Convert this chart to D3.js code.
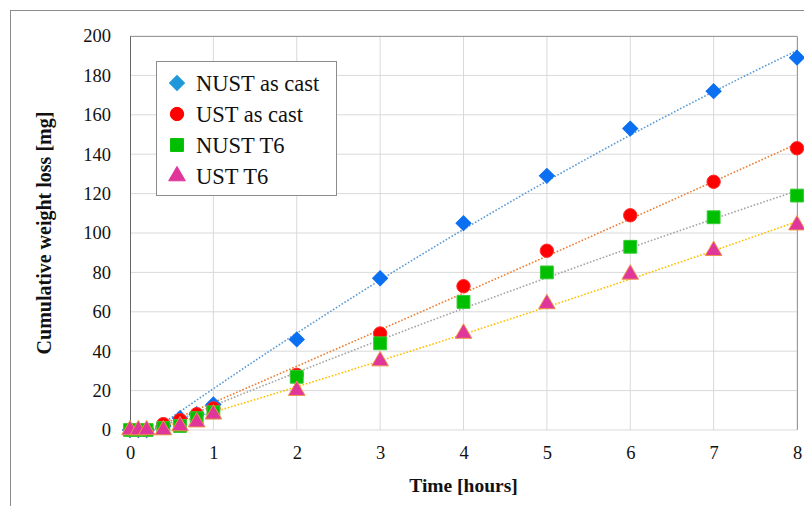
<!DOCTYPE html>
<html>
<head>
<meta charset="utf-8">
<script src="https://cdn.jsdelivr.net/npm/d3@7"></script>
<style>
  body { margin: 0; background: #fff; }
  svg text { font-family: "Liberation Serif", serif; fill: #111; }
</style>
</head>
<body>
<div id="chart"></div>
<script>
// time points [hours]
var hours = [0, 0.1, 0.2, 0.4, 0.6, 0.8, 1, 2, 3, 4, 5, 6, 7, 8];
// cumulative weight loss [mg]
var nustCast = [0, 0, 0, 2, 6, 8, 13, 46, 77, 105, 129, 153, 172, 189];
var ustCast  = [0, 0, 0, 3, 5, 8, 11, 28, 49, 73, 91, 109, 126, 143];
var nustT6   = [0, 0, 0, 1, 2, 6, 9, 27, 44, 65, 80, 93, 108, 119];
var ustT6    = [0, 0, 0, 0, 2, 4, 8, 20, 35, 49, 64, 79, 91, 104];
var seriesNames = ["NUST as cast", "UST as cast", "NUST T6", "UST T6"];
var xTicks = [0, 1, 2, 3, 4, 5, 6, 7, 8];
var yTicks = [0, 20, 40, 60, 80, 100, 120, 140, 160, 180, 200];

var styles = [
  {shape: d3.symbolSquare, rot: 45, fill: "#0a6ff0", stroke: "#0a6ff0", legendFill: "#1e98da", trend: "#5b9bd5", size: 112},
  {shape: d3.symbolCircle, rot: 0, fill: "#ff0000", stroke: "#ff2a2a", legendFill: "#ff0000", trend: "#ed7d31", size: 140},
  {shape: d3.symbolSquare, rot: 0, fill: "#00bf00", stroke: "#33cc33", legendFill: "#00bf00", trend: "#a5a5a5", size: 165},
  {shape: d3.symbolTriangle, rot: 0, fill: "#e0369b", stroke: "#f0904a", legendFill: "#e0369b", trend: "#ffc000", size: 120}
];

var series = [nustCast, ustCast, nustT6, ustT6].map(function(vals, i){
  return {name: seriesNames[i], style: styles[i],
          points: hours.map(function(h, j){ return {x: h, y: vals[j]}; })};
});

// 2nd order polynomial least squares (Excel-style trendline)
function polyfit2(pts){
  var s = [0, 0, 0, 0, 0], t = [0, 0, 0];
  pts.forEach(function(p){
    for (var k = 0; k < 5; k++) s[k] += Math.pow(p.x, k);
    for (var k2 = 0; k2 < 3; k2++) t[k2] += p.y * Math.pow(p.x, k2);
  });
  var A = [[s[0], s[1], s[2], t[0]], [s[1], s[2], s[3], t[1]], [s[2], s[3], s[4], t[2]]];
  for (var i = 0; i < 3; i++) {
    for (var r = i + 1; r < 3; r++) {
      var f = A[r][i] / A[i][i];
      for (var c = i; c < 4; c++) A[r][c] -= f * A[i][c];
    }
  }
  var c0, c1, c2;
  c2 = A[2][3] / A[2][2];
  c1 = (A[1][3] - A[1][2] * c2) / A[1][1];
  c0 = (A[0][3] - A[0][1] * c1 - A[0][2] * c2) / A[0][0];
  return function(xv){ return c0 + c1 * xv + c2 * xv * xv; };
}

var W = 804, H = 506;
var m = {left: 130, top: 36, right: 7, bottom: 76};
var pw = W - m.left - m.right, ph = H - m.top - m.bottom;

var svg = d3.select("#chart").append("svg")
    .attr("width", W).attr("height", H);

// outer frame (cut by the picture edge)
svg.append("rect").attr("x", 10.5).attr("y", 10.5)
   .attr("width", 820).attr("height", 520)
   .attr("fill", "none").attr("stroke", "#8c8c8c");

var x = d3.scaleLinear().domain([0, 8]).range([0, pw]);
var y = d3.scaleLinear().domain([0, 200]).range([ph, 0]);

var g = svg.append("g").attr("transform", "translate(" + [m.left, m.top] + ")");

g.append("clipPath").attr("id", "plotclip")
  .append("rect").attr("width", pw).attr("height", ph);

// grid
g.append("g").selectAll("line.v").data(xTicks.slice(1)).enter().append("line")
  .attr("x1", function(d){ return x(d); }).attr("x2", function(d){ return x(d); })
  .attr("y1", 0).attr("y2", ph).attr("stroke", "#d9d9d9");
g.append("g").selectAll("line.h").data(yTicks).enter().append("line")
  .attr("x1", 0).attr("x2", pw)
  .attr("y1", function(d){ return y(d); }).attr("y2", function(d){ return y(d); })
  .attr("stroke", "#d9d9d9");

// plot border: top and right
g.append("path").attr("d", "M0,0.5H" + (pw + 0.5) + "V" + ph)
  .attr("fill", "none").attr("stroke", "#9a9a9a");

// axes
var yAxis = g.append("g").call(d3.axisLeft(y).tickValues(yTicks).tickSize(0).tickPadding(19));
yAxis.select(".domain").attr("stroke", "#666");
yAxis.selectAll("text").style("font-size", "18.5px").attr("fill", "#111");

var xAxis = g.append("g").attr("transform", "translate(0," + ph + ")")
  .call(d3.axisBottom(x).tickValues(xTicks).tickSize(0).tickPadding(16));
xAxis.select(".domain").remove();
xAxis.selectAll("text").style("font-size", "18.5px").attr("fill", "#111");

// trendlines, clipped to the plot area
var trends = g.append("g").attr("clip-path", "url(#plotclip)");
var line = d3.line().x(function(d){ return x(d[0]); }).y(function(d){ return y(d[1]); });
series.forEach(function(s){
  var fit = polyfit2(s.points);
  var samples = d3.range(0, 8.001, 0.05).map(function(xv){ return [xv, fit(xv)]; });
  trends.append("path").attr("d", line(samples))
    .attr("fill", "none")
    .attr("stroke", s.style.trend).attr("stroke-width", 1.6)
    .attr("stroke-dasharray", "1.6 1.8");
});

// markers
series.forEach(function(s){
  g.append("g").selectAll("path").data(s.points).enter().append("path")
    .attr("d", d3.symbol().type(s.style.shape).size(s.style.size))
    .attr("transform", function(d){ return "translate(" + [x(d.x), y(d.y)] + ") rotate(" + s.style.rot + ")"; })
    .attr("fill", s.style.fill).attr("stroke", s.style.stroke).attr("stroke-width", 1);
});

// axis titles
svg.append("text").attr("x", m.left + pw / 2).attr("y", 492)
  .attr("text-anchor", "middle").style("font-size", "19.5px").style("font-weight", "bold")
  .text("Time [hours]");
svg.append("text").attr("transform", "translate(51," + (m.top + ph / 2) + ") rotate(-90)")
  .attr("text-anchor", "middle").style("font-size", "20px").style("font-weight", "bold")
  .text("Cumulative weight loss [mg]");

// legend
var lg = svg.append("g").attr("transform", "translate(156,61)");
lg.append("rect").attr("x", 0.5).attr("y", 0.5).attr("width", 180).attr("height", 134)
  .attr("fill", "#fff").attr("stroke", "#8c8c8c");
series.forEach(function(s, i){
  var row = lg.append("g").attr("transform", "translate(21," + (22 + i * 31) + ")");
  row.append("path").attr("d", d3.symbol().type(s.style.shape).size(s.style.size))
    .attr("transform", "rotate(" + s.style.rot + ")")
    .attr("fill", s.style.legendFill).attr("stroke", s.style.legendFill);
  row.append("text").attr("x", 19).attr("y", 7.5).style("font-size", "22.5px").text(s.name);
});
</script>
</body>
</html>
